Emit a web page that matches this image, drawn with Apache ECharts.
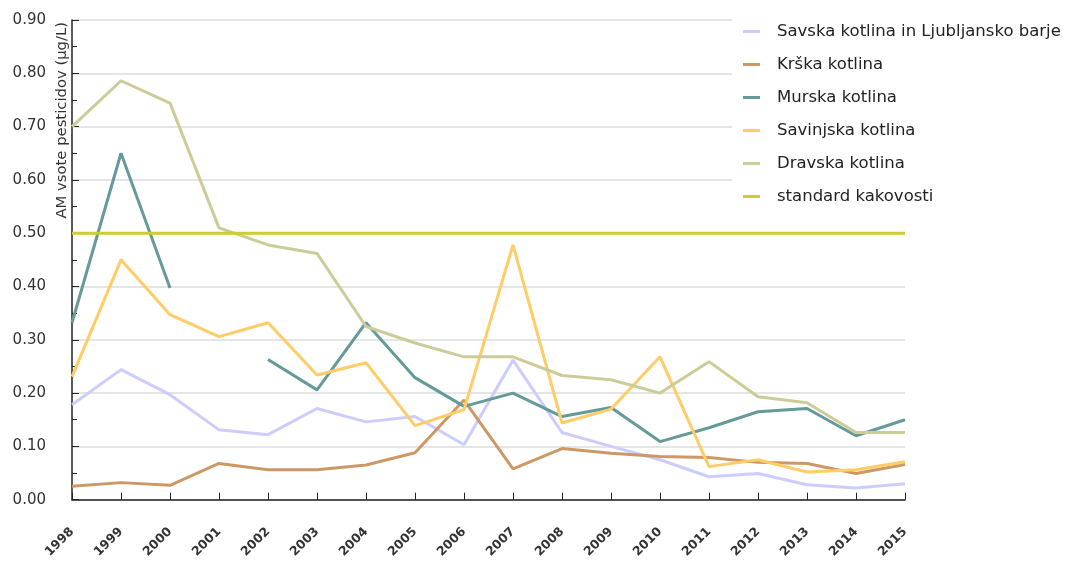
<!DOCTYPE html>
<html>
<head>
<meta charset="utf-8">
<script src="https://cdn.jsdelivr.net/npm/echarts@6/dist/echarts.min.js"></script>
<style>
    html, body { margin: 0; padding: 0; background: #fff; }
    #chart { width: 1066px; height: 561px; }
</style>
</head>
<body>
<div id="chart"></div>
<script>
    // years on the x axis
    const years = ['1998','1999','2000','2001','2002','2003','2004','2005','2006',
                   '2007','2008','2009','2010','2011','2012','2013','2014','2015'];

    // AM vsote pesticidov (µg/L)
    const savska    = [0.178,0.244,0.197,0.131,0.122,0.171,0.146,0.156,0.103,0.262,0.126,0.100,0.075,0.043,0.049,0.028,0.022,0.030];
    const krska     = [0.025,0.032,0.027,0.068,0.056,0.056,0.065,0.088,0.187,0.058,0.096,0.087,0.081,0.079,0.070,0.068,0.049,0.066];
    const murska    = [0.332,0.650,0.397,null,0.263,0.206,0.332,0.229,0.175,0.200,0.156,0.173,0.109,0.135,0.165,0.171,0.120,0.150];
    const savinjska = [0.231,0.450,0.347,0.306,0.332,0.234,0.257,0.139,0.169,0.478,0.144,0.170,0.268,0.062,0.075,0.052,0.056,0.071];
    const dravska   = [0.700,0.786,0.744,0.510,0.478,0.462,0.325,0.294,0.268,0.268,0.233,0.225,0.200,0.259,0.193,0.182,0.126,0.126];
    const standard  = [0.5,0.5,0.5,0.5,0.5,0.5,0.5,0.5,0.5,0.5,0.5,0.5,0.5,0.5,0.5,0.5,0.5,0.5];

    const seriesNames = ['Savska kotlina in Ljubljansko barje','Krška kotlina','Murska kotlina',
                         'Savinjska kotlina','Dravska kotlina','standard kakovosti'];
    const seriesData = [savska, krska, murska, savinjska, dravska, standard];
    const colors = ['#ccccff','#cc9966','#669999','#ffcc66','#cccc99','#cccc33'];

    const font = 'DejaVu Sans';

    let chart = echarts.init(document.getElementById('chart'), null, {renderer: 'canvas'});

    let series = [];
    for (let i = 0; i < seriesNames.length; i++) {
        series.push({
            name: seriesNames[i],
            type: 'line',
            data: seriesData[i],
            showSymbol: false,
            symbol: 'none',
            connectNulls: false,
            lineStyle: { color: colors[i], width: 3 },
            itemStyle: { color: colors[i] },
            emphasis: { disabled: true },
            animation: false
        });
    }

    let option = {
        animation: false,
        textStyle: { fontFamily: font },
        grid: { left: 72, right: 161, top: 20, bottom: 61 },
        legend: {
            orient: 'vertical',
            left: 732,
            top: 11,
            padding: [12, 4, 12, 11],
            backgroundColor: '#ffffff',
            icon: 'rect',
            itemWidth: 17,
            itemHeight: 3,
            itemGap: 16,
            textStyle: { fontFamily: font, fontSize: 16.5, color: '#222', padding: [0, 0, 0, 12] },
            data: seriesNames
        },
        xAxis: {
            type: 'category',
            data: years,
            boundaryGap: false,
            axisLine: { lineStyle: { color: '#222', width: 1.5 } },
            axisTick: { inside: true, length: 7, lineStyle: { color: '#222' } },
            axisLabel: {
                rotate: 45, fontSize: 12.5, fontWeight: 'bold', color: '#333',
                fontFamily: font, margin: 30, interval: 0
            },
            splitLine: { show: false }
        },
        yAxis: {
            type: 'value',
            min: 0,
            max: 0.9,
            interval: 0.1,
            axisLine: { show: true, lineStyle: { color: '#222', width: 1.5 } },
            axisTick: { show: true, inside: true, length: 7, lineStyle: { color: '#222' } },
            minorTick: { show: true, splitNumber: 2, length: 5, lineStyle: { color: '#222' } },
            axisLabel: {
                fontSize: 15, color: '#333', fontFamily: font, margin: 26,
                formatter: function (v) { return v.toFixed(2); }
            },
            splitLine: { lineStyle: { color: '#dddddd', width: 1.5 } }
        },
        graphic: [{
            type: 'text',
            x: 62,
            y: 22,
            rotation: Math.PI / 2,
            style: {
                text: 'AM vsote pesticidov (µg/L)',
                fontSize: 14.8,
                fontFamily: font,
                fill: '#333',
                align: 'right',
                verticalAlign: 'middle'
            }
        }],
        series: series
    };

    chart.setOption(option);
</script>
</body>
</html>
